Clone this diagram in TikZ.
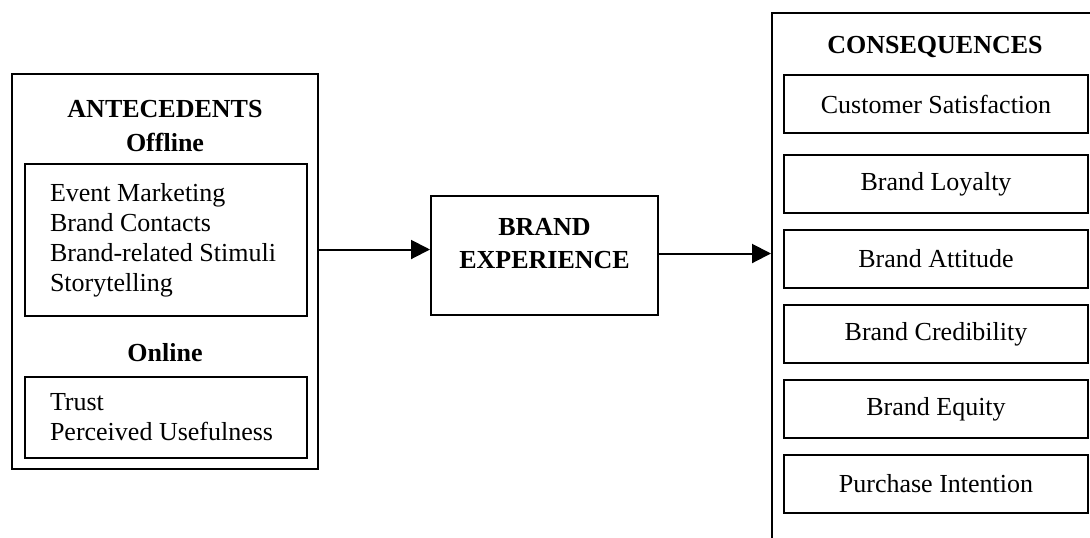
\documentclass[tikz,border=0pt]{standalone}
\usepackage{fontspec}
\setmainfont{Liberation Serif}
\usetikzlibrary{positioning,arrows.meta}
\tikzset{
  outerbox/.style={draw, line width=1pt, inner sep=0pt},
  listbox/.style={draw, line width=0.9pt, minimum width=141pt, text width=116pt,
                  inner xsep=12.5pt, inner ysep=0pt, align=flush left,
                  font=\fontsize{13}{15}\selectfont},
  itembox/.style={draw, line width=0.9pt, minimum width=152pt, minimum height=29pt,
                  inner sep=0pt, font=\fontsize{13}{15}\selectfont},
  heading/.style={inner sep=0pt, align=center, font=\fontsize{13}{16.5}\selectfont\bfseries},
  fwd/.style={-{Triangle[length=9.5pt, width=9.5pt]}, line width=1pt},
}
\begin{document}
\begin{tikzpicture}[x=0.5pt, y=-0.5pt]
  \clip (0,0) rectangle (1090,537);

  % antecedents
  \node[outerbox, minimum width=153pt, minimum height=197.5pt] (ante) at (165,271.5) {};
  \node[heading] (antetitle) at (165,109) {ANTECEDENTS};
  \node[heading] (offtitle) at (165,142) {Offline};
  \node[listbox, minimum height=76pt] (offbox) at (166,240)
    {Event Marketing\\Brand Contacts\\Brand-related Stimuli\\Storytelling};
  \node[heading] (ontitle) at (165,353) {Online};
  \node[listbox, minimum height=40.5pt] (onbox) at (166,417.5)
    {Trust\\Perceived Usefulness};

  % brand experience
  \node[outerbox, minimum width=113.5pt, minimum height=59.5pt] (bexp) at (544.5,255.5) {};
  \node[heading] (bexptitle) at (544.5,243.5) {BRAND\\EXPERIENCE};

  % consequences
  \node[outerbox, minimum width=169pt, minimum height=273.5pt] (cons) at (941,286.5) {};
  \node[heading] (constitle) at (935,47) {CONSEQUENCES};
  \node[itembox] (satisfaction) at (936,104) {Customer Satisfaction};
  \node[itembox] (loyalty) [below=10pt of satisfaction] {Brand Loyalty};
  \node[itembox] (attitude) [below=7.6pt of loyalty] {Brand Attitude};
  \node[itembox] (credibility) [below=7.6pt of attitude] {Brand Credibility};
  \node[itembox] (equity) [below=7.6pt of credibility] {Brand Equity};
  \node[itembox] (intention) [below=7.6pt of equity] {Purchase Intention};

  \coordinate (bexpin) at ([yshift=3pt]bexp.west);
  \coordinate (bexpout) at ([yshift=1pt]bexp.east);
  \draw[fwd] (ante.east |- bexpin) -- (bexpin);
  \draw[fwd] (bexpout) -- (cons.west |- bexpout);

\end{tikzpicture}
\end{document}
